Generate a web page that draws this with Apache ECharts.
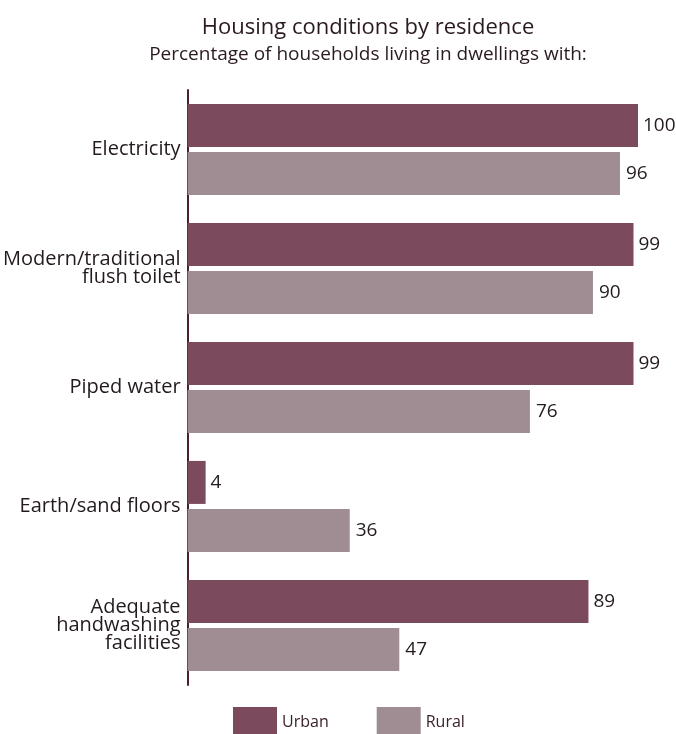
<!DOCTYPE html>
<html>
<head>
<meta charset="utf-8">
<script src="https://cdn.jsdelivr.net/npm/echarts@6/dist/echarts.min.js"></script>
<style>html,body{margin:0;padding:0;background:#fff;}#c{width:676px;height:734px;}</style>
</head>
<body>
<div id="c"></div>
<script>
const categories = ['Electricity', 'Modern/traditional\nflush toilet', 'Piped water', 'Earth/sand floors', 'Adequate\nhandwashing\nfacilities'];
const urban = [100, 99, 99, 4, 89];
const rural = [96, 90, 76, 36, 47];
const seriesNames = ['Urban', 'Rural'];

const FONT = '"Open Sans", sans-serif';
const chart = echarts.init(document.getElementById('c'), null, {renderer: 'canvas'});
chart.setOption({
  backgroundColor: '#ffffff',
  animation: false,
  title: [
    {text: 'Housing conditions by residence', left: 363, top: 12, textAlign: 'center',
     textStyle: {fontFamily: FONT, fontSize: 22, fontWeight: 'normal', color: '#2a1a20'}},
    {text: 'Percentage of households living in dwellings with:', left: 363, top: 40, textAlign: 'center',
     textStyle: {fontFamily: FONT, fontSize: 19, fontWeight: 'normal', color: '#2a1a20'}}
  ],
  legend: {
    data: seriesNames,
    left: 228, top: 702,
    itemWidth: 44, itemHeight: 30, itemGap: 48,
    icon: 'rect',
    textStyle: {fontFamily: FONT, fontSize: 16, color: '#3a2229'}
  },
  grid: {left: 187, right: 38, top: 90, bottom: 49, containLabel: false},
  xAxis: {type: 'value', min: 0, max: 100, show: false},
  yAxis: {
    type: 'category', data: categories, inverse: true,
    axisLine: {show: true, lineStyle: {color: '#4a1f2e', width: 2}},
    axisTick: {show: false},
    axisLabel: {fontFamily: FONT, fontSize: 20, color: '#231a1e', margin: 7, lineHeight: 18, align: 'right',
                padding: [5, 0, 0, 0]}
  },
  series: [
    {name: 'Urban', type: 'bar', data: urban, barWidth: 43, barGap: '12%',
     itemStyle: {color: '#7b4a5c'},
     label: {show: true, position: 'right', distance: 5, fontFamily: FONT, fontSize: 19, color: '#231a1e'}},
    {name: 'Rural', type: 'bar', data: rural, barWidth: 43,
     itemStyle: {color: '#a08d94'},
     label: {show: true, position: 'right', distance: 6, fontFamily: FONT, fontSize: 19, color: '#231a1e'}}
  ]
});
</script>
</body>
</html>
